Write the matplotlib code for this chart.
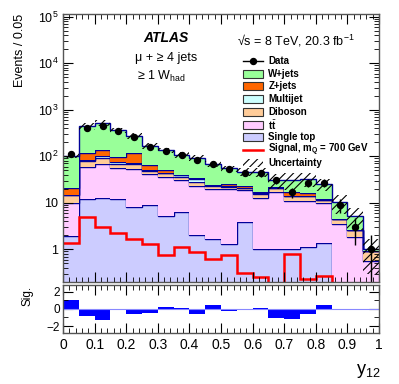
import numpy as np
import matplotlib
matplotlib.use("Agg")
import matplotlib.pyplot as plt
from matplotlib.patches import Rectangle
from matplotlib.lines import Line2D
from matplotlib.ticker import FixedLocator, MultipleLocator, FuncFormatter, NullFormatter

plt.rcParams['font.family'] = ['Liberation Sans', 'DejaVu Sans']
plt.rcParams['mathtext.fontset'] = 'custom'
plt.rcParams['mathtext.rm'] = 'Liberation Sans'
plt.rcParams['mathtext.it'] = 'Liberation Sans:italic'
plt.rcParams['mathtext.bf'] = 'Liberation Sans:bold'
plt.rcParams['hatch.linewidth'] = 0.8

# bins in y12
edges = np.linspace(0, 1, 21)

# background components (stacked, bottom to top)
single_top = [1.95, 12.2, 12.8, 11.8, 8.0, 9.1, 5.3, 6.3, 2.05, 1.7,
              1.28, 3.9, 1.03, 1.0, 1.03, 1.12, 1.35, 0.0, 0.0, 0.0]
ttbar = [7.9, 47.4, 55, 43, 44, 31.5, 30.7, 25.3, 21, 17.8,
         18.2, 14.6, 11.6, 16, 9.9, 9.8, 8.6, 3.5, 1.8, 0.56]
diboson = [4.6, 19.6, 22, 15, 16, 7.4, 6.7, 5.0, 5.0, 3.5,
           2.4, 2.2, 3.1, 3.7, 2.8, 2.8, 1.3, 1.0, 0.8, 0.36]
multijet = [0.5, 5, 13, 5, 3, 2, 1.5, 2.5, 5, 1,
            1, 0.5, 0.5, 0.5, 0.3, 0.3, 0.3, 0.0, 0.0, 0.0]
zjets = [5.8, 32, 34, 23, 45, 15, 6, 1, 0.5, 0.6,
         3, 2, 0.5, 0.5, 3, 2, 0.3, 0.0, 0.0, 0.0]
wjets = [82, 324, 383, 262, 154, 103, 83, 68, 60, 45,
         29, 23, 29, 9, 14.5, 17, 13.4, 5.8, 2.5, 0.08]

# relative uncertainty of total background
rel_unc = [0.12, 0.15, 0.15, 0.12, 0.15, 0.15, 0.12, 0.15, 0.15, 0.15,
           0.15, 0.2, 0.2, 0.35, 0.4, 0.35, 0.3, 0.45, 0.5, 0.7]

data = [110, 405, 455, 355, 255, 162, 130, 107, 83, 68,
        52, 44, 43, 30.6, 17, 27, 27, 9.1, 3.0, 1.0]

signal = [1.35, 4.9, 3.05, 2.2, 1.7, 1.28, 0.74, 1.12, 0.87, 0.63,
          0.75, 0.31, 0.26, 0.0, 0.8, 0.23, 0.27, 0.0, 0.0, 0.0]

significance = [1.0, -0.8, -1.25, 0.0, -0.55, -0.45, 0.25, 0.05, -0.65, 0.45,
                -0.25, -0.1, 0.15, -1.05, -1.15, -0.6, 0.4, -0.1, -0.15, 0.0]

components = [
    ('Single top', single_top, '#ccccff'),
    (r't$\bar{\mathrm{t}}$', ttbar, '#ffccff'),
    ('Diboson', diboson, '#ffcc99'),
    ('Multijet', multijet, '#ccffff'),
    ('Z+jets', zjets, '#ff6600'),
    ('W+jets', wjets, '#99ff99'),
]
edge_col = '#000099'

fig = plt.figure(figsize=(3.99, 3.84), dpi=100)
ax = fig.add_axes([0.158, 0.266, 0.792, 0.698])
ax2 = fig.add_axes([0.158, 0.133, 0.792, 0.125])

ax.set_yscale('log')
base = np.full(20, 1e-3)
for name, vals, col in components:
    top = base + np.array(vals)
    ax.stairs(top, edges, baseline=base, fill=True, color=col, lw=0)
    ax.stairs(top, edges, baseline=None, color=edge_col, lw=1.0)
    base = top
total = base

lo = total * (1 - np.array(rel_unc))
hi = total * (1 + np.array(rel_unc))
centers = 0.5 * (edges[:-1] + edges[1:])
ax.bar(centers, hi - lo, bottom=lo, width=0.05, fill=False, hatch='////',
       edgecolor='k', lw=0)

ax.stairs(signal, edges, baseline=None, color='red', lw=1.8)

data = np.array(data)
ax.errorbar(centers, data, yerr=np.sqrt(data), fmt='o', color='k', ms=4.3,
            elinewidth=1, capsize=0)

ax.set_xlim(0, 1)
ax.set_ylim(0.2, 1.15e5)


def log_fmt(v, pos):
    e = int(round(np.log10(v)))
    if e == 0:
        return '1'
    if e == 1:
        return '10'
    return r'$10^{%d}$' % e


# only decades inside the visible range
ax.yaxis.set_major_locator(FixedLocator([1, 10, 1e2, 1e3, 1e4, 1e5]))
ax.yaxis.set_major_formatter(FuncFormatter(log_fmt))
minors = [m * 10.0 ** e for e in range(-1, 5) for m in range(2, 10) if 0.2 <= m * 10.0 ** e <= 1.15e5]
ax.yaxis.set_minor_locator(FixedLocator(minors))
ax.yaxis.set_minor_formatter(NullFormatter())
ax.xaxis.set_major_locator(MultipleLocator(0.1))
ax.xaxis.set_minor_locator(MultipleLocator(0.02))

for a in (ax, ax2):
    a.tick_params(which='both', direction='in', top=True, right=True, labelsize=9)
    a.tick_params(which='major', length=7)
    a.tick_params(which='minor', length=3.5)
    for s in a.spines.values():
        s.set_linewidth(1.0)
        s.set_color('#555555')
ax.tick_params(axis='x', which='both', labelbottom=False)

ax2.bar(centers, significance, width=0.05, color='#0000ff', lw=0)
ax2.axhline(0, color='#8888ff', lw=0.8)
ax2.set_xlim(0, 1)
ax2.set_ylim(-2.8, 2.8)
ax2.yaxis.set_major_locator(FixedLocator([-2, 0, 2]))
ax2.yaxis.set_minor_locator(MultipleLocator(1))
ax2.xaxis.set_major_locator(MultipleLocator(0.1))
ax2.xaxis.set_minor_locator(MultipleLocator(0.02))
ax2.xaxis.set_major_formatter(FuncFormatter(lambda v, p: '%g' % round(v, 1)))
ax2.tick_params(axis='x', labelsize=10, pad=4)
ax2.tick_params(axis='y', labelsize=8.5, pad=2)

# labels
fig.text(20 / 399, 1 - 14 / 384, 'Events / 0.05', rotation=90, ha='center', va='top', fontsize=9)
fig.text(27 / 399, 1 - 296 / 384, 'Sig.', rotation=90, ha='center', va='center', fontsize=8.5)
fig.text(381 / 399, 1 - 380 / 384, r'y$_{\mathregular{12}}$', ha='right', va='bottom', fontsize=13)

ax.text(0.326, 0.91, 'ATLAS', transform=ax.transAxes, ha='center', va='center',
        fontsize=10, fontweight='bold', fontstyle='italic')
ax.text(0.326, 0.836, 'μ + ≥ 4 jets', transform=ax.transAxes, ha='center', va='center', fontsize=9)
ax.text(0.31, 0.765, r'≥ 1 W$_{\mathregular{had}}$', transform=ax.transAxes, ha='center',
        va='center', fontsize=9)
ax.text(0.55, 0.90, r'√s = 8 TeV, 20.3 fb$^{\mathregular{-1}}$', transform=ax.transAxes,
        ha='left', va='center', fontsize=9)

# legend drawn by hand so every row has the same height
leg_labels = ['Data', 'W+jets', 'Z+jets', 'Multijet', 'Diboson', r't$\bar{\mathbf{t}}$',
              'Single top', r'Signal, m$_{\mathregular{Q}}$ = 700 GeV', 'Uncertainty']
leg_kinds = ['data', '#99ff99', '#ff6600', '#ccffff', '#ffcc99', '#ffccff', '#ccccff',
             'signal', 'unc']
x0, x1, xt = 0.570, 0.633, 0.650
row_top, row_step = 1 - (61 - 14) / 268, 12.75 / 268
box_h = 0.03
for i, (lab, kind) in enumerate(zip(leg_labels, leg_kinds)):
    yc = row_top - i * row_step
    if kind == 'data':
        ax.add_line(Line2D([x0, x1], [yc, yc], transform=ax.transAxes, color='k', lw=1))
        ax.add_line(Line2D([(x0 + x1) / 2], [yc], transform=ax.transAxes, color='k',
                           marker='o', ms=4.3))
    elif kind == 'signal':
        ax.add_line(Line2D([x0, x1], [yc, yc], transform=ax.transAxes, color='red', lw=1.8))
    elif kind == 'unc':
        ax.add_patch(Rectangle((x0, yc - box_h / 2), x1 - x0, box_h, transform=ax.transAxes,
                               fill=False, hatch='////', edgecolor='k', lw=0))
    else:
        ax.add_patch(Rectangle((x0, yc - box_h / 2), x1 - x0, box_h, transform=ax.transAxes,
                               facecolor=kind, edgecolor='#333333', lw=0.8))
    ax.text(xt, yc, lab, transform=ax.transAxes, ha='left', va='center',
            fontsize=7, fontweight='bold')

fig.savefig('out.png', dpi=100)
